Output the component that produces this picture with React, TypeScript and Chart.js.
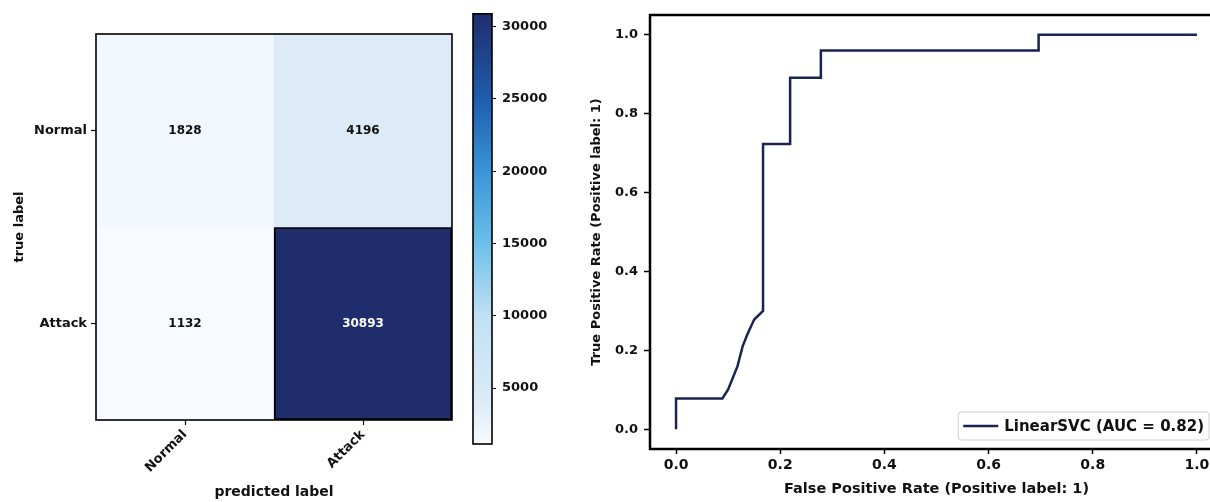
import React, { useEffect, useRef } from 'react';
import { Chart, registerables } from 'chart.js';

Chart.register(...registerables);

const FONT = '"DejaVu Sans", "Liberation Sans", sans-serif';
const INK = '#111111';

// ---------- data ----------
const predictedLabels = ['Normal', 'Attack'];
const trueLabels = ['Normal', 'Attack'];
const countsNormalRow = [1828, 4196];
const countsAttackRow = [1132, 30893];
const colorbarTicks = [5000, 10000, 15000, 20000, 25000, 30000];

const rocFpr = [0, 0, 0.089, 0.1, 0.118, 0.128, 0.137, 0.15, 0.167, 0.167, 0.219, 0.219, 0.278, 0.278, 0.696, 0.696, 1.0];
const rocTpr = [0, 0.078, 0.078, 0.101, 0.16, 0.211, 0.241, 0.278, 0.3, 0.723, 0.723, 0.891, 0.891, 0.96, 0.96, 1.0, 1.0];
const rocTicks = [0, 0.2, 0.4, 0.6, 0.8, 1.0];
const rocSeriesLabel = 'LinearSVC (AUC = 0.82)';

// ---------- colour map (style) ----------
const cmapStops: [number, string][] = [
  [0, '#f7fbff'],
  [0.1, '#dcebf7'],
  [0.3, '#c0e0f4'],
  [0.46, '#6fc0ea'],
  [0.63, '#3a96d6'],
  [0.8, '#1e5eae'],
  [1, '#1f2d6c'],
];
function hexRgb(h: string) {
  const n = parseInt(h.slice(1), 16);
  return [(n >> 16) & 255, (n >> 8) & 255, n & 255];
}
function cmap(t: number): string {
  t = Math.max(0, Math.min(1, t));
  for (let i = 1; i < cmapStops.length; i++) {
    const [t1, c1] = cmapStops[i];
    const [t0, c0] = cmapStops[i - 1];
    if (t <= t1) {
      const f = (t - t0) / (t1 - t0);
      const a = hexRgb(c0), b = hexRgb(c1);
      const m = a.map((v, k) => Math.round(v + (b[k] - v) * f));
      return `rgb(${m[0]},${m[1]},${m[2]})`;
    }
  }
  return cmapStops[cmapStops.length - 1][1];
}

const rows = [countsNormalRow, countsAttackRow];
const allVals = rows.flat();
const vMin = Math.min(...allVals);
const vMax = Math.max(...allVals);
const norm = (v: number) => (v - vMin) / (vMax - vMin);

const font = (size: number) => ({ family: FONT, size, weight: 'bold' as const });

export default function App() {
  const heatRef = useRef<HTMLCanvasElement>(null);
  const cbRef = useRef<HTMLCanvasElement>(null);
  const rocRef = useRef<HTMLCanvasElement>(null);

  useEffect(() => {
    const charts: Chart[] = [];

    // ---------- heatmap ----------
    const heatPlugin = {
      id: 'heatText',
      afterDatasetsDraw(chart: any) {
        const ctx = chart.ctx;
        ctx.save();
        ctx.font = `bold 12px ${FONT}`;
        ctx.textAlign = 'center';
        ctx.textBaseline = 'middle';
        rows.forEach((row, r) => {
          const meta = chart.getDatasetMeta(r);
          row.forEach((v, c) => {
            const el = meta.data[c];
            const cy = (el.y + el.base) / 2;
            ctx.fillStyle = norm(v) > 0.5 ? '#ffffff' : INK;
            ctx.fillText(String(v), el.x, cy);
          });
        });
        const a = chart.chartArea;
        ctx.strokeStyle = '#000';
        ctx.lineWidth = 1.6;
        ctx.strokeRect(a.left, a.top, a.right - a.left, a.bottom - a.top);
        ctx.restore();
      },
    };

    charts.push(
      new Chart(heatRef.current!, {
        type: 'bar',
        data: {
          labels: predictedLabels,
          datasets: rows.map((row, r) => ({
            label: trueLabels[r],
            data: row.map(() => [r - 0.5, r + 0.5]),
            backgroundColor: row.map((v) => cmap(norm(v))),
            borderColor: '#000',
            borderWidth: row.map((v) => (norm(v) > 0.5 ? 2 : 0)),
            borderSkipped: false,
            grouped: false,
            barPercentage: 1,
            categoryPercentage: 1,
          })) as any,
        },
        options: {
          responsive: false,
          animation: false,
          layout: { padding: { left: 0, right: 8, top: 34, bottom: 0 } },
          plugins: { legend: { display: false }, tooltip: { enabled: false } },
          scales: {
            x: {
              type: 'category',
              offset: true,
              grid: { offset: false, drawOnChartArea: false, tickLength: 5, color: '#000', tickWidth: 1.2 },
              border: { display: false },
              ticks: { font: font(13), color: INK, minRotation: 45, maxRotation: 45, padding: 2 },
              title: { display: true, text: 'predicted label', font: font(14), color: INK, padding: { top: 0, bottom: 1 } },
              afterFit: (s: any) => { s.height = 82; },
            },
            y: {
              type: 'linear',
              min: -0.5,
              max: 1.5,
              reverse: true,
              afterBuildTicks: (s: any) => { s.ticks = trueLabels.map((_, i) => ({ value: i })); },
              ticks: { callback: (v: any) => trueLabels[v] ?? '', font: font(13), color: INK, padding: 4 },
              grid: { drawOnChartArea: false, tickLength: 5, color: '#000', tickWidth: 1.2 },
              border: { display: false },
              title: { display: true, text: 'true label', font: font(13), color: INK, padding: { top: 12, bottom: 0 } },
              afterFit: (s: any) => { s.width = 96; },
            },
          },
        } as any,
        plugins: [heatPlugin],
      })
    );

    // ---------- colorbar ----------
    const cbPlugin = {
      id: 'cbGradient',
      beforeDatasetsDraw(chart: any) {
        const ctx = chart.ctx;
        const a = chart.chartArea;
        const g = ctx.createLinearGradient(0, a.bottom, 0, a.top);
        cmapStops.forEach(([t, c]) => g.addColorStop(t, c));
        ctx.save();
        ctx.fillStyle = g;
        ctx.fillRect(a.left, a.top, a.right - a.left, a.bottom - a.top);
        ctx.strokeStyle = '#000';
        ctx.lineWidth = 1.6;
        ctx.strokeRect(a.left, a.top, a.right - a.left, a.bottom - a.top);
        ctx.restore();
      },
    };
    charts.push(
      new Chart(cbRef.current!, {
        type: 'scatter',
        data: { datasets: [] },
        options: {
          responsive: false,
          animation: false,
          layout: { padding: { left: 13, right: 0, top: 12, bottom: 58 } },
          plugins: { legend: { display: false }, tooltip: { enabled: false } },
          scales: {
            x: { display: false },
            y: {
              type: 'linear',
              position: 'right',
              min: vMin,
              max: vMax,
              afterBuildTicks: (s: any) => { s.ticks = colorbarTicks.map((v) => ({ value: v })); },
              ticks: { callback: (v: any) => String(v), font: font(13), color: INK, padding: 6 },
              grid: { drawOnChartArea: false, tickLength: 4, color: '#000' },
              border: { display: false },
              afterFit: (s: any) => { s.width = 68; },
            },
          },
        } as any,
        plugins: [cbPlugin],
      })
    );

    // ---------- ROC ----------
    const rocPlugin = {
      id: 'rocFrameLegend',
      afterDraw(chart: any) {
        const ctx = chart.ctx;
        const a = chart.chartArea;
        ctx.save();
        ctx.strokeStyle = '#000';
        ctx.lineWidth = 2.5;
        ctx.strokeRect(a.left, a.top, a.right - a.left, a.bottom - a.top);

        const ds = chart.data.datasets[0];
        ctx.font = `bold 15px ${FONT}`;
        const tw = ctx.measureText(ds.label).width;
        const pad = 5, lineLen = 35, gap = 6, h = 28;
        const w = pad + lineLen + gap + tw + pad;
        const right = a.right - 14;
        const bottom = a.bottom - 9;
        const x0 = right - w, y0 = bottom - h;
        ctx.beginPath();
        ctx.roundRect(x0, y0, w, h, 3);
        ctx.fillStyle = 'rgba(255,255,255,0.9)';
        ctx.fill();
        ctx.strokeStyle = '#cfcfcf';
        ctx.lineWidth = 1;
        ctx.stroke();
        ctx.beginPath();
        ctx.moveTo(x0 + pad, y0 + h / 2);
        ctx.lineTo(x0 + pad + lineLen, y0 + h / 2);
        ctx.strokeStyle = ds.borderColor;
        ctx.lineWidth = 2.5;
        ctx.stroke();
        ctx.fillStyle = INK;
        ctx.textAlign = 'left';
        ctx.textBaseline = 'middle';
        ctx.fillText(ds.label, x0 + pad + lineLen + gap, y0 + h / 2 + 1);
        ctx.restore();
      },
    };
    charts.push(
      new Chart(rocRef.current!, {
        type: 'line',
        data: {
          datasets: [
            {
              label: rocSeriesLabel,
              data: rocFpr.map((x, i) => ({ x, y: rocTpr[i] })),
              borderColor: '#1b2352',
              borderWidth: 2.5,
              pointRadius: 0,
              tension: 0,
              fill: false,
            },
          ],
        },
        options: {
          responsive: false,
          animation: false,
          layout: { padding: { left: 0, right: 13, top: 15, bottom: 0 } },
          plugins: { legend: { display: false }, tooltip: { enabled: false } },
          scales: {
            x: {
              type: 'linear',
              min: -0.05,
              max: 1.05,
              afterBuildTicks: (s: any) => { s.ticks = rocTicks.map((v) => ({ value: v })); },
              ticks: { callback: (v: any) => Number(v).toFixed(1), font: font(14), color: INK, padding: 3, maxRotation: 0 },
              grid: { drawOnChartArea: false, tickLength: 5, color: '#000', tickWidth: 1.5 },
              border: { display: false },
              title: { display: true, text: 'False Positive Rate (Positive label: 1)', font: font(14.5), color: INK, padding: { top: 0, bottom: 4 } },
              afterFit: (s: any) => { s.height = 53; },
            },
            y: {
              type: 'linear',
              min: -0.05,
              max: 1.05,
              afterBuildTicks: (s: any) => { s.ticks = rocTicks.map((v) => ({ value: v })); },
              ticks: { callback: (v: any) => Number(v).toFixed(1), font: font(13), color: INK, padding: 6 },
              grid: { drawOnChartArea: false, tickLength: 6, color: '#000', tickWidth: 1.5 },
              border: { display: false },
              title: { display: true, text: 'True Positive Rate (Positive label: 1)', font: font(13), color: INK, padding: { top: 29, bottom: 0 } },
              afterFit: (s: any) => { s.width = 90; },
            },
          },
        } as any,
        plugins: [rocPlugin],
      })
    );

    return () => charts.forEach((c) => c.destroy());
  }, []);

  return (
    <div style={{ position: 'fixed', left: 0, top: 0, width: 1210, height: 502, overflow: 'hidden', background: '#fff' }}>
      <div style={{ position: 'absolute', left: 0, top: 0 }}>
        <canvas ref={heatRef} width={460} height={502} />
      </div>
      <div style={{ position: 'absolute', left: 460, top: 0 }}>
        <canvas ref={cbRef} width={100} height={502} />
      </div>
      <div style={{ position: 'absolute', left: 560, top: 0 }}>
        <canvas ref={rocRef} width={676} height={502} />
      </div>
    </div>
  );
}
